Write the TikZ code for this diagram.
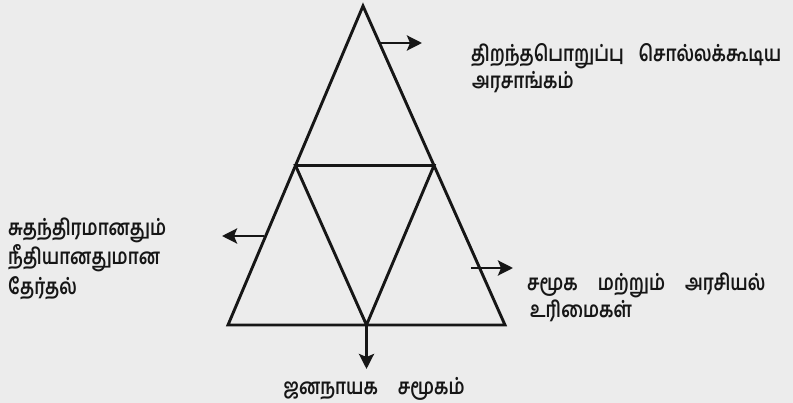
\documentclass[tikz,border=0pt]{standalone}
\usepackage{fontspec}
\newfontfamily\tamil[Script=Tamil,FakeStretch=0.8]{Hind Madurai}
\usetikzlibrary{arrows.meta,calc}
\definecolor{paper}{RGB}{236,236,236}
\definecolor{ink}{RGB}{22,22,22}
\newcommand{\wgap}{\hspace{20pt}}
\begin{document}
\begin{tikzpicture}[x=1pt,y=-1pt,
  edge/.style={draw=ink,line width=2.9pt,line join=miter},
  pointer/.style={draw=ink,line width=2.9pt,-{Stealth[length=15pt,width=15pt,inset=3pt]}},
  lbl/.style={text=ink,inner sep=0pt,anchor=base west,font=\tamil\bfseries\fontsize{22}{28}\selectfont}]
\fill[paper] (0,0) rectangle (793,403);
\useasboundingbox (0,0) rectangle (793,403);
% triangle corners
\coordinate (A) at (363,6);
\coordinate (BL) at (228,325);
\coordinate (BR) at (505,325);
\coordinate (ML) at ($(A)!0.5!(BL)$);
\coordinate (MR) at ($(A)!0.5!(BR)$);
\coordinate (MB) at ($(BL)!0.5!(BR)$);
\draw[edge] (A) -- (BR) -- (BL) -- cycle;
\draw[edge] (ML) -- (MR) -- (MB) -- cycle;
% labels
\node[lbl] (top1) at (471,62) {\makebox[310pt][s]{திறந்தபொறுப்பு சொல்லக்கூடிய}};
\node[lbl] (top2) at (472,89) {அரசாங்கம்};
\node[lbl] (left1) at (8,236) {சுதந்திரமானதும்};
\node[lbl] (left2) at (8,265) {நீதியானதுமான};
\node[lbl] (left3) at (8,295) {தேர்தல்};
\node[lbl] (right1) at (527,291) {சமூக\wgap மற்றும்\wgap அரசியல்};
\node[lbl] (right2) at (530,318) {உரிமைகள்};
\node[lbl,anchor=base] (bottom) at (374,395) {ஜனநாயக\wgap சமூகம்};
% arrow ends
\coordinate (t0) at (378,43); \coordinate (t1) at (422,43);
\coordinate (l0) at (264,236); \coordinate (l1) at (222,236);
\coordinate (r0) at (471,268); \coordinate (r1) at (513,268);
\coordinate (b1) at (366.5,369);
\draw[pointer] (t0) -- (t1);
\draw[pointer] (l0) -- (l1);
\draw[pointer] (r0) -- (r1);
\draw[pointer] (MB) -- (b1);
\end{tikzpicture}
\end{document}
